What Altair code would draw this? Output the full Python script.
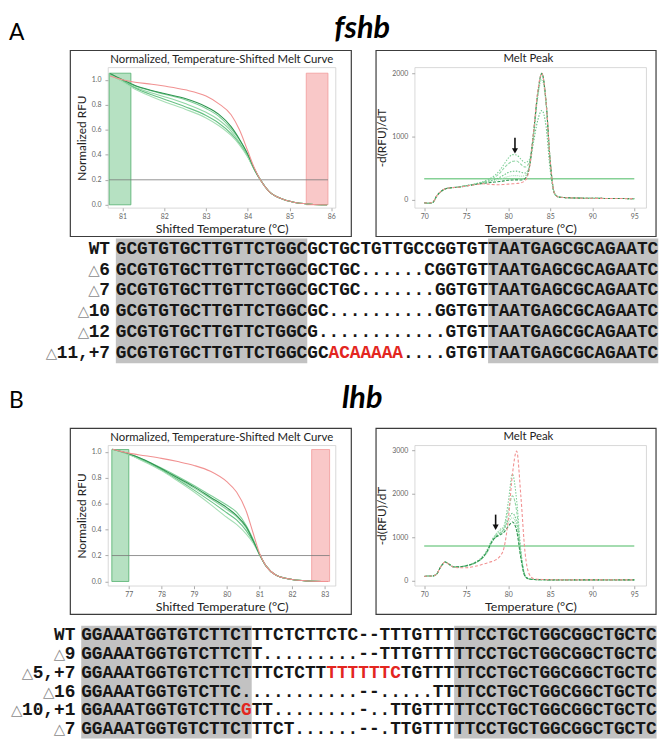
import altair as alt
import pandas as pd

# ---------------- Panel A : fshb ----------------
A_CURVE_T = [80.7, 81.0, 81.3, 81.7, 82.0, 82.5, 83.0, 83.3, 83.6, 83.8, 84.0, 84.15, 84.3, 84.5, 84.8, 85.1, 85.5, 85.9]
A_CURVE_WT = [1.03, 1.00, 0.98, 0.965, 0.95, 0.92, 0.87, 0.81, 0.72, 0.60, 0.43, 0.30, 0.20, 0.11, 0.05, 0.02, 0.005, 0.0]
A_CURVE_M1 = [1.04, 0.99, 0.95, 0.91, 0.885, 0.84, 0.77, 0.71, 0.61, 0.52, 0.40, 0.29, 0.20, 0.11, 0.05, 0.02, 0.005, 0.0]
A_CURVE_M2 = [1.04, 0.99, 0.94, 0.895, 0.865, 0.81, 0.74, 0.68, 0.59, 0.50, 0.39, 0.29, 0.20, 0.11, 0.05, 0.02, 0.005, 0.0]
A_CURVE_M3 = [1.05, 0.99, 0.935, 0.88, 0.845, 0.785, 0.715, 0.655, 0.57, 0.49, 0.385, 0.285, 0.20, 0.11, 0.05, 0.02, 0.005, 0.0]
A_CURVE_M4 = [1.05, 0.985, 0.925, 0.865, 0.825, 0.765, 0.695, 0.635, 0.555, 0.48, 0.38, 0.285, 0.20, 0.11, 0.05, 0.02, 0.005, 0.0]
A_CURVE_M5 = [1.05, 1.0, 0.955, 0.915, 0.89, 0.85, 0.785, 0.725, 0.625, 0.525, 0.405, 0.29, 0.20, 0.11, 0.05, 0.02, 0.005, 0.0]
A_BAND_GREEN = [80.68, 81.2]
A_BAND_RED = [85.4, 85.92]
A_BAND_TOP = 1.053
A_CURVE_THRESHOLD = 0.2

A_PEAK_T = [70, 70.5, 71, 71.5, 72, 72.5, 73, 74, 75, 76, 77, 78, 79, 79.5, 80, 80.5, 81, 81.5, 82, 82.5, 83, 83.5, 84, 84.5, 85, 85.5, 86, 87, 88, 90, 92, 95]
A_PEAK_WT = [-50, -55, -45, 60, 130, 170, 185, 195, 215, 235, 250, 240, 235, 240, 245, 250, 255, 265, 300, 480, 1050, 1700, 2000, 1550, 600, 100, 40, 30, 25, 20, 18, 15]
A_PEAK_M1 = [-45, -60, -50, 55, 125, 170, 185, 198, 222, 248, 285, 345, 465, 560, 655, 712, 705, 640, 585, 630, 1020, 1650, 1990, 1560, 610, 105, 40, 30, 25, 20, 18, 15]
A_PEAK_M2 = [-50, -60, -50, 55, 125, 168, 183, 196, 220, 245, 278, 325, 420, 500, 565, 605, 612, 560, 515, 590, 1000, 1640, 2000, 1540, 600, 100, 40, 30, 25, 20, 18, 15]
A_PEAK_M3 = [-50, -58, -48, 58, 128, 168, 184, 196, 218, 242, 268, 302, 352, 390, 428, 448, 450, 432, 420, 520, 900, 1250, 1410, 1160, 460, 90, 40, 30, 25, 20, 18, 15]
A_PEAK_M4 = [-48, -57, -47, 58, 128, 169, 184, 195, 217, 240, 262, 292, 322, 345, 365, 378, 380, 370, 382, 525, 1000, 1600, 1900, 1500, 580, 100, 40, 30, 25, 20, 18, 15]
A_PEAK_M5 = [-50, -56, -46, 60, 130, 170, 185, 195, 216, 238, 256, 272, 287, 296, 305, 310, 312, 310, 332, 500, 1050, 1680, 2000, 1550, 600, 100, 40, 30, 25, 20, 18, 15]
A_PEAK_THRESHOLD = 330
A_ARROW = [80.8, 980, 770]

A_LABELS = ["WT", "\u25b36", "\u25b37", "\u25b310", "\u25b312", "\u25b311,+7"]
A_SEQS = [
    "GCGTGTGCTTGTTCTGGCGCTGCTGTTGCCGGTGTTAATGAGCGCAGAATC",
    "GCGTGTGCTTGTTCTGGCGCTGC......CGGTGTTAATGAGCGCAGAATC",
    "GCGTGTGCTTGTTCTGGCGCTGC.......GGTGTTAATGAGCGCAGAATC",
    "GCGTGTGCTTGTTCTGGCGC..........GGTGTTAATGAGCGCAGAATC",
    "GCGTGTGCTTGTTCTGGCG............GTGTTAATGAGCGCAGAATC",
    "GCGTGTGCTTGTTCTGGCGCACAAAAA....GTGTTAATGAGCGCAGAATC",
]
A_GREY_BLOCKS = [(0, 18), (35, 51)]
A_RED = [(5, 20, 27)]

# ---------------- Panel B : lhb ----------------
B_CURVE_T = [76.5, 77.0, 77.5, 78.0, 78.5, 79.0, 79.5, 80.0, 80.3, 80.6, 80.8, 81.0, 81.2, 81.5, 82.0, 82.5, 83.1]
B_CURVE_WT = [1.02, 0.99, 0.97, 0.95, 0.925, 0.895, 0.85, 0.77, 0.69, 0.54, 0.38, 0.22, 0.12, 0.05, 0.015, 0.004, 0.0]
B_CURVE_M1 = [1.02, 0.985, 0.935, 0.875, 0.81, 0.74, 0.665, 0.59, 0.535, 0.43, 0.33, 0.21, 0.12, 0.05, 0.015, 0.004, 0.0]
B_CURVE_M2 = [1.02, 0.98, 0.93, 0.865, 0.795, 0.72, 0.64, 0.555, 0.50, 0.41, 0.32, 0.21, 0.12, 0.05, 0.015, 0.004, 0.0]
B_CURVE_M3 = [1.02, 0.98, 0.925, 0.86, 0.785, 0.705, 0.62, 0.53, 0.475, 0.39, 0.31, 0.21, 0.12, 0.05, 0.015, 0.004, 0.0]
B_CURVE_M4 = [1.02, 0.98, 0.92, 0.855, 0.775, 0.69, 0.595, 0.495, 0.44, 0.365, 0.30, 0.21, 0.12, 0.05, 0.015, 0.004, 0.0]
B_CURVE_M5 = [1.02, 0.985, 0.935, 0.87, 0.80, 0.73, 0.65, 0.57, 0.51, 0.42, 0.32, 0.21, 0.12, 0.05, 0.015, 0.004, 0.0]
B_BAND_GREEN = [76.48, 77.0]
B_BAND_RED = [82.6, 83.15]
B_BAND_TOP = 1.018
B_CURVE_THRESHOLD = 0.2

B_PEAK_T = [70, 70.5, 71, 71.5, 72, 72.5, 73, 73.5, 74, 75, 76, 77, 77.5, 78, 78.5, 79, 79.5, 80, 80.5, 81, 81.5, 82, 82.5, 83, 84, 85, 87, 90, 92, 95]
B_PEAK_WT = [100, 110, 110, 160, 330, 430, 370, 310, 300, 300, 330, 380, 410, 440, 480, 560, 760, 1400, 2450, 2980, 1950, 650, 150, 50, 30, 25, 20, 20, 20, 20]
B_PEAK_M1 = [100, 110, 110, 160, 330, 430, 375, 320, 320, 350, 420, 570, 720, 920, 1060, 1150, 1260, 1800, 2450, 1850, 700, 130, 40, 30, 25, 20, 20, 20, 20, 20]
B_PEAK_M2 = [100, 110, 110, 160, 330, 428, 372, 318, 318, 345, 410, 550, 690, 890, 1030, 1100, 1200, 1600, 1950, 1600, 650, 120, 40, 30, 25, 20, 20, 20, 20, 20]
B_PEAK_M3 = [100, 110, 110, 160, 330, 428, 372, 318, 318, 342, 405, 540, 670, 870, 1000, 1080, 1180, 1400, 1550, 1350, 600, 110, 40, 30, 25, 20, 20, 20, 20, 20]
B_PEAK_M4 = [100, 110, 110, 160, 330, 430, 372, 318, 318, 340, 400, 530, 650, 860, 1050, 1180, 1230, 1340, 1450, 1250, 560, 110, 40, 30, 25, 20, 20, 20, 20, 20]
B_PEAK_M5 = [100, 110, 110, 160, 330, 430, 375, 320, 320, 345, 410, 545, 680, 880, 1000, 1050, 1120, 1250, 1350, 1150, 520, 100, 40, 30, 25, 20, 20, 20, 20, 20]
B_PEAK_THRESHOLD = 800
B_ARROW = [78.5, 1520, 1230]

B_LABELS = ["WT", "\u25b39", "\u25b35,+7", "\u25b316", "\u25b310,+1", "\u25b37"]
B_SEQS = [
    "GGAAATGGTGTCTTCTTTCTCTTCTC--TTTGTTTTTCCTGCTGGCGGCTGCTC",
    "GGAAATGGTGTCTTCTT.........--TTTGTTTTTCCTGCTGGCGGCTGCTC",
    "GGAAATGGTGTCTTCTTTCTCTTTTTTTTCTGTTTTTCCTGCTGGCGGCTGCTC",
    "GGAAATGGTGTCTTC...........--.....TTTTCCTGCTGGCGGCTGCTC",
    "GGAAATGGTGTCTTCGTT........-..TTGTTTTTCCTGCTGGCGGCTGCTC",
    "GGAAATGGTGTCTTCTTTCT......--.TTGTTTTTCCTGCTGGCGGCTGCTC",
]
B_GREY_BLOCKS = [(0, 16), (35, 54)]
B_RED = [(2, 23, 30), (4, 15, 16)]

SERIES = ["M1", "M2", "M3", "M4", "M5", "WT"]
CURVE_COLORS = ["#7fcf98", "#92d6a6", "#68c285", "#a6deb5", "#2f9550", "#f19292"]
PEAK_COLORS = ["#6ec98a", "#86d39d", "#9bdab0", "#74c98e", "#b0e0bd", "#f29a9a"]
PEAK_DASH = [[1.5, 1.5], [3, 1.5], [1.5, 1.5], [1, 1], [3, 1.5], [3, 2]]

FONT = "Lato"
MONO = "Liberation Mono"
VIEW_LEFT_PAGE = 108


def long_df(t, series_lists):
    rows = []
    for name, vals in zip(SERIES, series_lists):
        for x, y in zip(t, vals):
            rows.append({"t": x, "v": y, "s": name})
    return pd.DataFrame(rows)


def note(text, x, y, size, align="left", italic=False, bold=False, color="#000"):
    return alt.Chart(pd.DataFrame({"txt": [text]})).mark_text(
        font=FONT, fontSize=size, align=align, baseline="alphabetic",
        fontStyle="italic" if italic else "normal",
        fontWeight="bold" if bold else "normal", color=color).encode(
        x=alt.value(x), y=alt.value(y), text="txt:N")


def frame_layer(dx0, dx1, w, h):
    return alt.Chart(pd.DataFrame({"k": [0]})).mark_rect(
        fillOpacity=0, stroke="#3c3c3c", strokeWidth=1.2
    ).encode(
        x=alt.value(dx0), x2=alt.value(w + dx1), y=alt.value(-17), y2=alt.value(h + 29)
    )


def axis_x(values, title):
    return alt.Axis(values=values, format="d", title=title, domain=False, grid=False,
                    labelFont=FONT, labelFontSize=7, labelColor="#666", tickColor="#aaa",
                    tickSize=3, labelPadding=2, titleFont=FONT, titleFontSize=12.5,
                    titleFontWeight="normal", titleColor="#222", titlePadding=3)


def axis_y(values, fmt, title):
    return alt.Axis(values=values, format=fmt, title=title, domain=False, grid=False,
                    labelFont=FONT, labelFontSize=7, labelColor="#666", tickColor="#aaa",
                    tickSize=3, labelPadding=4, titleFont=FONT, titleFontSize=12,
                    titleFontWeight="normal", titleColor="#222", titlePadding=3)


def melt_curve(t, series, band_g, band_r, band_top, thr, xdom, ydom, xticks, w, h, notes=None):
    df = long_df(t, series)
    xenc = alt.X("t:Q", scale=alt.Scale(domain=xdom, nice=False, zero=False),
                 axis=axis_x(xticks, "Shifted Temperature (\u00b0C)"))
    yenc = alt.Y("v:Q", scale=alt.Scale(domain=ydom, nice=False, zero=False),
                 axis=axis_y([0, 0.2, 0.4, 0.6, 0.8, 1.0], ".1f", "Normalized RFU"))
    bands = pd.DataFrame({"t": [band_g[0], band_r[0]], "t2": [band_g[1], band_r[1]],
                          "v": [0, 0], "v2": [band_top, band_top],
                          "f": ["#a9dcb7", "#f8bebe"], "st": ["#4fae6b", "#f19a9a"]})
    band_layer = alt.Chart(bands).mark_rect(fillOpacity=0.85, strokeWidth=0.8).encode(
        x=xenc, x2="t2:Q", y=yenc, y2="v2:Q",
        fill=alt.Fill("f:N", scale=None), stroke=alt.Stroke("st:N", scale=None))
    thr_df = pd.DataFrame({"t": [band_g[0]], "t2": [band_r[1]], "v": [thr]})
    thr_layer = alt.Chart(thr_df).mark_rule(color="#777", strokeWidth=0.8).encode(
        x=xenc, x2="t2:Q", y=yenc)
    lines = alt.Chart(df).mark_line(interpolate="monotone", strokeWidth=1.1).encode(
        x=xenc, y=yenc,
        color=alt.Color("s:N", scale=alt.Scale(domain=SERIES, range=CURVE_COLORS), legend=None),
        order=alt.Order("t:Q"))
    layers = [band_layer, thr_layer, lines, frame_layer(-38, 16, w, h),
              note("Normalized, Temperature-Shifted Melt Curve", w / 2, -4, 11.5,
                   align="center", color="#222")]
    if notes is not None:
        layers += notes
    return alt.layer(*layers).properties(
        width=w, height=h, view=alt.ViewBackground(stroke="#cfcfcf", strokeWidth=0.8))


def melt_peak(t, series, thr, arrow, ydom, yticks, w, h):
    df = long_df(t, series)
    xenc = alt.X("t:Q", scale=alt.Scale(domain=[68.86, 96.41], nice=False, zero=False),
                 axis=axis_x([70, 75, 80, 85, 90, 95], "Temperature (\u00b0C)"))
    yenc = alt.Y("v:Q", scale=alt.Scale(domain=ydom, nice=False, zero=False),
                 axis=axis_y(yticks, "d", "-d(RFU)/dT"))
    thr_df = pd.DataFrame({"t": [70], "t2": [95], "v": [thr]})
    thr_layer = alt.Chart(thr_df).mark_rule(color="#86d196", strokeWidth=1.6).encode(
        x=xenc, x2="t2:Q", y=yenc)
    lines = alt.Chart(df).mark_line(interpolate="monotone", strokeWidth=1.1).encode(
        x=xenc, y=yenc,
        color=alt.Color("s:N", scale=alt.Scale(domain=SERIES, range=PEAK_COLORS), legend=None),
        strokeDash=alt.StrokeDash("s:N", scale=alt.Scale(domain=SERIES, range=PEAK_DASH), legend=None),
        order=alt.Order("t:Q"))
    ar = pd.DataFrame({"t": [arrow[0]], "v": [arrow[1]], "v2": [arrow[2]]})
    shaft = alt.Chart(ar).mark_rule(color="#111", strokeWidth=1.6).encode(x=xenc, y=yenc, y2="v2:Q")
    head = alt.Chart(ar).mark_point(shape="triangle-down", filled=True, color="#111", size=38,
                                    opacity=1).encode(x=xenc, y=alt.Y("v2:Q"))
    return alt.layer(thr_layer, lines, shaft, head, frame_layer(-39, 10, w, h),
                     note("Melt Peak", w / 2 - 2, -5, 11.5, align="center", color="#222")).properties(
        width=w, height=h, view=alt.ViewBackground(stroke="#cfcfcf", strokeWidth=0.8))


def seq_chart(labels, seqs, blocks, reds, x0_page, pitch_x, row0_page, pitch_y,
              view_top_page, w, h):
    dmin = (VIEW_LEFT_PAGE - x0_page) / pitch_x
    xs = alt.Scale(domain=[dmin, dmin + w / pitch_x], nice=False, zero=False)
    ymin = (view_top_page - row0_page) / pitch_y
    ys = alt.Scale(domain=[ymin, ymin + h / pitch_y], nice=False, zero=False, reverse=True)
    nrow = len(seqs)
    grey = pd.DataFrame({"c": [b[0] for b in blocks], "c2": [b[1] for b in blocks],
                         "r": [-0.5] * len(blocks), "r2": [nrow - 0.5] * len(blocks)})
    grey_layer = alt.Chart(grey).mark_rect(color="#c2c2c2").encode(
        x=alt.X("c:Q", scale=xs, axis=None), x2="c2:Q",
        y=alt.Y("r:Q", scale=ys, axis=None), y2="r2:Q")
    chars = []
    for i, s in enumerate(seqs):
        for c, ch in enumerate(s):
            red = any(rr == i and a <= c < b for rr, a, b in reds)
            chars.append({"c": c + 0.5, "r": i, "ch": ch, "col": "#e3261f" if red else "#161616"})
    lab_bold = []
    lab_tri = []
    for i, lab in enumerate(labels):
        n = len(lab)
        for j, ch in enumerate(lab):
            rec = {"c": j - n - 0.05, "r": i, "ch": ch}
            if ch == "\u25b3":
                lab_tri.append(rec)
            else:
                rec["col"] = "#161616"
                lab_bold.append(rec)
    text_df = pd.DataFrame(chars + lab_bold)
    txt = alt.Chart(text_df).mark_text(font=MONO, fontSize=18, fontWeight="bold",
                                       baseline="middle", align="center").encode(
        x=alt.X("c:Q", scale=xs, axis=None), y=alt.Y("r:Q", scale=ys, axis=None),
        text="ch:N", color=alt.Color("col:N", scale=None))
    tri = alt.Chart(pd.DataFrame(lab_tri)).mark_text(font="DejaVu Sans", fontSize=15,
                                                     baseline="middle", align="center",
                                                     color="#8a8a8a").encode(
        x=alt.X("c:Q", scale=xs, axis=None), y=alt.Y("r:Q", scale=ys, axis=None), text="ch:N")
    return alt.layer(grey_layer, txt, tri).properties(width=w, height=h)


def filler(w):
    return alt.Chart(pd.DataFrame({"k": [0]})).mark_point(opacity=0).encode(
        x=alt.value(0), y=alt.value(0)).properties(width=w, height=1)


LW, RW, H = 230, 234, 142
A_VIEW_TOP = 63
B_VIEW_TOP = 445

leftA = melt_curve(A_CURVE_T, [A_CURVE_M1, A_CURVE_M2, A_CURVE_M3, A_CURVE_M4, A_CURVE_M5, A_CURVE_WT],
                   A_BAND_GREEN, A_BAND_RED, A_BAND_TOP, A_CURVE_THRESHOLD,
                   [80.65, 86.1], [-0.024, 1.10], [81, 82, 83, 84, 85, 86], LW, H,
                   notes=[note("fshb", 257, 33 - A_VIEW_TOP, 31, align="center", italic=True, bold=True),
                          note("A", -100, 35 - A_VIEW_TOP, 23)])
rightA = melt_peak(A_PEAK_T, [A_PEAK_M1, A_PEAK_M2, A_PEAK_M3, A_PEAK_M4, A_PEAK_M5, A_PEAK_WT],
                   A_PEAK_THRESHOLD, A_ARROW, [-130, 2094], [0, 500, 1000, 1500, 2000], RW, H)
seqA = seq_chart(A_LABELS, A_SEQS, A_GREY_BLOCKS, A_RED, 116, 10.75, 246.5, 21, 205, LW, 240)
leftB = melt_curve(B_CURVE_T, [B_CURVE_M1, B_CURVE_M2, B_CURVE_M3, B_CURVE_M4, B_CURVE_M5, B_CURVE_WT],
                   B_BAND_GREEN, B_BAND_RED, B_BAND_TOP, B_CURVE_THRESHOLD,
                   [76.36, 83.33], [-0.033, 1.051], [77, 78, 79, 80, 81, 82, 83], LW, H,
                   notes=[note("lhb", 257, 407 - B_VIEW_TOP, 31, align="center", italic=True, bold=True),
                          note("B", -100, 407 - B_VIEW_TOP, 23)])
rightB = melt_peak(B_PEAK_T, [B_PEAK_M1, B_PEAK_M2, B_PEAK_M3, B_PEAK_M4, B_PEAK_M5, B_PEAK_WT],
                   B_PEAK_THRESHOLD, B_ARROW, [-114, 3114], [0, 500, 1000, 1500, 2000, 2500, 3000], RW, H)
seqB = seq_chart(B_LABELS, B_SEQS, B_GREY_BLOCKS, B_RED, 81, 10.77, 637, 19, 587, LW, 154)

chart = alt.concat(
    leftA, rightA, seqA, filler(RW), leftB, rightB, seqB, filler(RW),
    columns=2, spacing=alt.RowColnumber(row=0, column=80), bounds="flush", align="each",
).properties(padding=0).configure_view(strokeWidth=0)

chart.save("out.html", embed_options={"renderer": "svg", "actions": False})
